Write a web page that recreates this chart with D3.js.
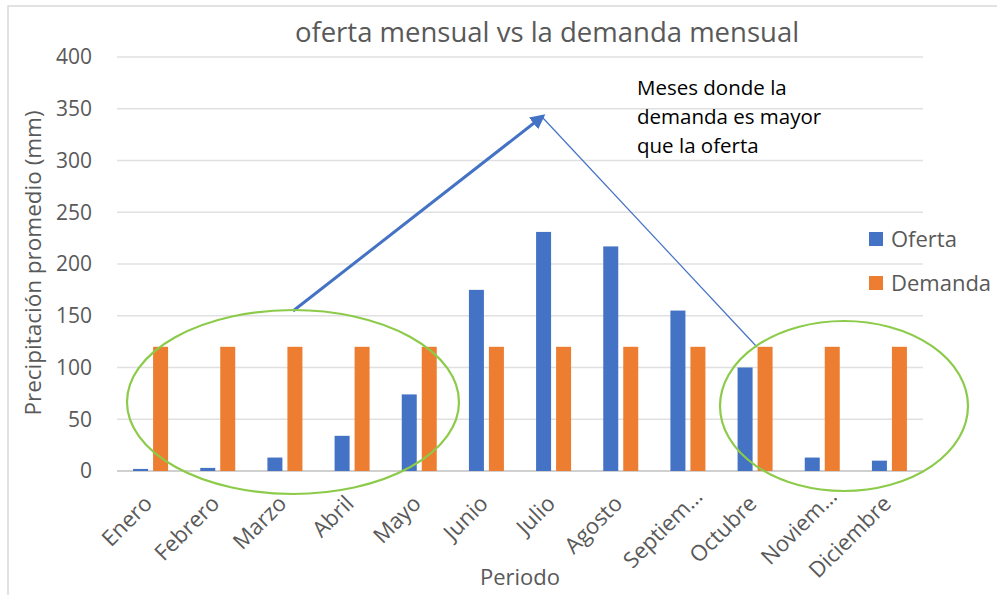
<!DOCTYPE html>
<html>
<head>
<meta charset="utf-8">
<script src="https://d3js.org/d3.v7.min.js"></script>
<style>
  body { margin: 0; background: #fff; }
  text { font-family: "Open Sans", "Noto Sans", sans-serif; }
</style>
</head>
<body>
<svg id="chart"></svg>
<script>
  var meses = ["Enero", "Febrero", "Marzo", "Abril", "Mayo", "Junio", "Julio",
    "Agosto", "Septiem…", "Octubre", "Noviem…", "Diciembre"]
  var oferta = [2, 3, 13, 34, 74, 175, 231, 217, 155, 100, 13, 10]
  var demanda = [120, 120, 120, 120, 120, 120, 120, 120, 120, 120, 120, 120]
  var yTicks = [0, 50, 100, 150, 200, 250, 300, 350, 400]
  var series = ["Oferta", "Demanda"]
  var colores = ["#4472C4", "#ED7D31"]

  var W = 997, H = 595
  var margin = { top: 57, left: 117, right: 74, bottom: 124 }

  var svg = d3.select('#chart').attr('width', W).attr('height', H)

  // frame
  svg.append('rect')
    .attr('x', 8).attr('y', 6)
    .attr('width', W + 10).attr('height', H + 10)
    .attr('fill', 'none').attr('stroke', '#d9d9d9').attr('stroke-width', 1.5)

  var x = d3.scaleBand().domain(meses).range([margin.left, W - margin.right])
  var y = d3.scaleLinear().domain([0, 400]).range([H - margin.bottom, margin.top])

  // gridlines
  svg.append('g').selectAll('line').data(yTicks).enter().append('line')
    .attr('x1', margin.left).attr('x2', W - margin.right)
    .attr('y1', d => y(d)).attr('y2', d => y(d))
    .attr('stroke', d => d === 0 ? '#d0d0d0' : '#e0e0e0')
    .attr('stroke-width', d => d === 0 ? 2 : 1.5)

  // y tick labels
  svg.append('g').selectAll('text').data(yTicks).enter().append('text')
    .attr('x', 92).attr('y', d => y(d))
    .attr('dy', '0.35em')
    .attr('text-anchor', 'end')
    .attr('font-size', 21)
    .attr('fill', '#595959')
    .text(d => d)

  var barW = 15, gap = 5
  var bars = svg.append('g')
  bars.selectAll('.of').data(oferta).enter().append('rect')
    .attr('x', (d, i) => x(meses[i]) + x.bandwidth() / 2 - gap / 2 - barW)
    .attr('width', barW)
    .attr('y', d => y(d))
    .attr('height', d => y(0) - y(d))
    .attr('fill', colores[0])
  bars.selectAll('.de').data(demanda).enter().append('rect')
    .attr('x', (d, i) => x(meses[i]) + x.bandwidth() / 2 + gap / 2)
    .attr('width', barW)
    .attr('y', d => y(d))
    .attr('height', d => y(0) - y(d))
    .attr('fill', colores[1])

  // x labels (truncated ones sit a bit higher/right, like excel does)
  svg.append('g').selectAll('text').data(meses).enter().append('text')
    .attr('transform', d => {
      var cut = d.indexOf('…') >= 0
      var cx = x(d) + x.bandwidth() / 2 + (cut ? 16 : 3)
      var cy = y(0) + (cut ? 27 : 34)
      return 'translate(' + cx + ',' + cy + ') rotate(-45)'
    })
    .attr('text-anchor', 'end')
    .attr('font-size', 22)
    .attr('fill', '#595959')
    .text(d => d)

  // titles
  svg.append('text')
    .attr('x', 547).attr('y', 42)
    .attr('text-anchor', 'middle')
    .attr('font-size', 27.5)
    .attr('fill', '#595959')
    .text('oferta mensual vs la demanda mensual')
  svg.append('text')
    .attr('transform', 'translate(41,' + (y(200) - 1) + ') rotate(-90)')
    .attr('text-anchor', 'middle')
    .attr('font-size', 22.5)
    .attr('fill', '#595959')
    .text('Precipitación promedio (mm)')
  svg.append('text')
    .attr('x', 520).attr('y', 585)
    .attr('text-anchor', 'middle')
    .attr('font-size', 22)
    .attr('fill', '#595959')
    .text('Periodo')

  // legend
  var leg = svg.append('g').selectAll('g').data(series).enter().append('g')
    .attr('transform', (d, i) => 'translate(869,' + (232 + i * 44) + ')')
  leg.append('rect').attr('width', 14).attr('height', 14).attr('fill', (d, i) => colores[i])
  leg.append('text')
    .attr('x', 22).attr('y', 7).attr('dy', '0.35em')
    .attr('font-size', 22).attr('fill', '#595959')
    .text(d => d)

  // annotation
  var nota = ["Meses donde la", "demanda es mayor", "que la oferta"]
  svg.append('g').selectAll('text').data(nota).enter().append('text')
    .attr('x', 637).attr('y', (d, i) => 95 + i * 29)
    .attr('font-size', 20.5)
    .attr('fill', '#000')
    .text(d => d)

  svg.append('defs').append('marker')
    .attr('id', 'head').attr('viewBox', '0 0 10 10')
    .attr('refX', 8).attr('refY', 5)
    .attr('markerWidth', 5).attr('markerHeight', 5)
    .attr('orient', 'auto')
    .append('path').attr('d', 'M0,0 L10,5 L0,10 z').attr('fill', '#4472C4')

  svg.append('line')
    .attr('x1', 293).attr('y1', 311).attr('x2', 543).attr('y2', 116)
    .attr('stroke', '#4472C4').attr('stroke-width', 3)
    .attr('marker-end', 'url(#head)')
  svg.append('line')
    .attr('x1', 543).attr('y1', 118).attr('x2', 757).attr('y2', 347)
    .attr('stroke', '#4472C4').attr('stroke-width', 1.2)

  // ellipses
  svg.append('ellipse')
    .attr('cx', 293).attr('cy', 402).attr('rx', 166).attr('ry', 92)
    .attr('fill', 'none').attr('stroke', '#8CCB4A').attr('stroke-width', 2.2)
  svg.append('ellipse')
    .attr('cx', 844).attr('cy', 406).attr('rx', 124).attr('ry', 85)
    .attr('fill', 'none').attr('stroke', '#8CCB4A').attr('stroke-width', 2.2)
</script>
</body>
</html>
